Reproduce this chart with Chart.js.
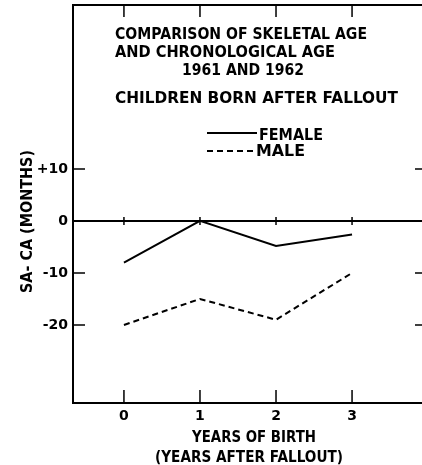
<!DOCTYPE html>
<html>
<head>
<meta charset="utf-8">
<script src="https://cdn.jsdelivr.net/npm/chart.js@4/dist/chart.umd.min.js"></script>
<style>
  html, body { margin: 0; padding: 0; background: #fff; }
  #wrap { width: 422px; height: 465px; }
</style>
</head>
<body>
<div id="wrap"><canvas id="grafico" width="422" height="465"></canvas></div>
<script>
// datos
const years = [0, 1, 2, 3];
const female = [-8, 0, -4.8, -2.6];
const male = [-20, -15, -19, -10];
const yTicks = [-20, -10, 0, 10];
const yTickLabels = ["-20", "-10", "0", "+10"];
const titleLines = [
    "COMPARISON OF SKELETAL AGE",
    "AND CHRONOLOGICAL AGE",
    "1961 AND 1962",
    "CHILDREN BORN AFTER FALLOUT"
];
const legendLabels = ["FEMALE", "MALE"];
const xTitleLines = ["YEARS OF BIRTH", "(YEARS AFTER FALLOUT)"];
const yTitle = "SA- CA (MONTHS)";

const FONT = "'DejaVu Sans', sans-serif";

// dibuja texto estirado o comprimido a un ancho dado
function fitText(ctx, text, x, y, width) {
    const w = ctx.measureText(text).width;
    ctx.save();
    ctx.translate(x, y);
    ctx.scale(width / w, 1);
    ctx.textAlign = "left";
    ctx.textBaseline = "alphabetic";
    ctx.fillText(text, 0, 0);
    ctx.restore();
}

const decoraciones = {
    id: "decoraciones",
    afterDraw(chart) {
        const ctx = chart.ctx;
        const area = chart.chartArea;
        const xs = chart.scales.x;
        const ys = chart.scales.y;
        const y0 = ys.getPixelForValue(0);
        ctx.save();
        ctx.strokeStyle = "#000";
        ctx.fillStyle = "#000";

        // borde superior
        ctx.lineWidth = 2;
        ctx.beginPath();
        ctx.moveTo(area.left, area.top);
        ctx.lineTo(area.right, area.top);
        ctx.stroke();

        // marcas hacia dentro
        ctx.lineWidth = 1.5;
        ctx.beginPath();
        yTicks.forEach(v => {
            if (v === 0) return;
            const py = ys.getPixelForValue(v);
            ctx.moveTo(area.left, py);
            ctx.lineTo(area.left + 12, py);
            ctx.moveTo(area.right - 7, py);
            ctx.lineTo(area.right, py);
        });
        years.forEach(v => {
            const px = xs.getPixelForValue(v);
            ctx.moveTo(px, area.top);
            ctx.lineTo(px, area.top + 12);
            ctx.moveTo(px, area.bottom - 13);
            ctx.lineTo(px, area.bottom);
            ctx.moveTo(px, y0 - 4);
            ctx.lineTo(px, y0 + 4);
        });
        ctx.stroke();

        // título dentro del gráfico
        ctx.font = "bold 16px " + FONT;
        fitText(ctx, titleLines[0], 115, 38.5, 252);
        fitText(ctx, titleLines[1], 115, 56.5, 220);
        fitText(ctx, titleLines[2], 182, 75, 122);
        fitText(ctx, titleLines[3], 115, 103, 283);

        // leyenda
        const ds = chart.data.datasets;
        ctx.font = "bold 15px " + FONT;
        fitText(ctx, legendLabels[0], 259, 139.5, 64);
        fitText(ctx, legendLabels[1], 256, 156, 49);
        ctx.lineWidth = ds[0].borderWidth;
        ctx.beginPath();
        ctx.moveTo(207, 133);
        ctx.lineTo(257, 133);
        ctx.stroke();
        ctx.lineWidth = ds[1].borderWidth;
        ctx.setLineDash(ds[1].borderDash);
        ctx.beginPath();
        ctx.moveTo(207, 151);
        ctx.lineTo(254, 151);
        ctx.stroke();
        ctx.setLineDash([]);

        // títulos de ejes
        ctx.font = "bold 15px " + FONT;
        fitText(ctx, xTitleLines[0], 192, 441.5, 124);
        fitText(ctx, xTitleLines[1], 155, 461.5, 188);
        ctx.save();
        ctx.translate(32, 293);
        ctx.rotate(-Math.PI / 2);
        fitText(ctx, yTitle, 0, 0, 143);
        ctx.restore();

        ctx.restore();
    }
};

new Chart(document.getElementById("grafico"), {
    type: "line",
    data: {
        datasets: [{
            label: legendLabels[0],
            data: years.map((x, i) => ({ x: x, y: female[i] })),
            borderColor: "#000",
            borderWidth: 2,
            pointRadius: 0,
            tension: 0,
            fill: false
        }, {
            label: legendLabels[1],
            data: years.map((x, i) => ({ x: x, y: male[i] })),
            borderColor: "#000",
            borderWidth: 2,
            borderDash: [6, 4],
            pointRadius: 0,
            tension: 0,
            fill: false
        }]
    },
    options: {
        responsive: false,
        animation: false,
        layout: { padding: { top: 5, right: 0, left: 0, bottom: 0 } },
        plugins: {
            legend: { display: false },
            tooltip: { enabled: false }
        },
        scales: {
            x: {
                type: "linear",
                min: -0.67,
                max: 3.92,
                afterBuildTicks: s => { s.ticks = years.map(v => ({ value: v })); },
                afterFit: s => { s.height = 62; s.paddingLeft = 0; s.paddingRight = 0; },
                grid: { display: true, drawOnChartArea: false, drawTicks: false },
                border: { display: true, color: "#000", width: 2 },
                ticks: {
                    color: "#000",
                    padding: 5,
                    font: { family: FONT, size: 14, weight: "bold" },
                    callback: v => String(v)
                }
            },
            y: {
                type: "linear",
                min: -35,
                max: 41.5,
                afterBuildTicks: s => { s.ticks = yTicks.map(v => ({ value: v })); },
                afterFit: s => { s.width = 73; s.paddingTop = 0; s.paddingBottom = 0; },
                grid: {
                    drawOnChartArea: true,
                    drawTicks: false,
                    lineWidth: 2,
                    color: c => (c.tick && c.tick.value === 0) ? "#000" : "rgba(0,0,0,0)"
                },
                border: { display: true, color: "#000", width: 2 },
                ticks: {
                    color: "#000",
                    padding: 5,
                    font: { family: FONT, size: 14, weight: "bold" },
                    callback: v => yTickLabels[yTicks.indexOf(v)]
                }
            }
        }
    },
    plugins: [decoraciones]
});
</script>
</body>
</html>
